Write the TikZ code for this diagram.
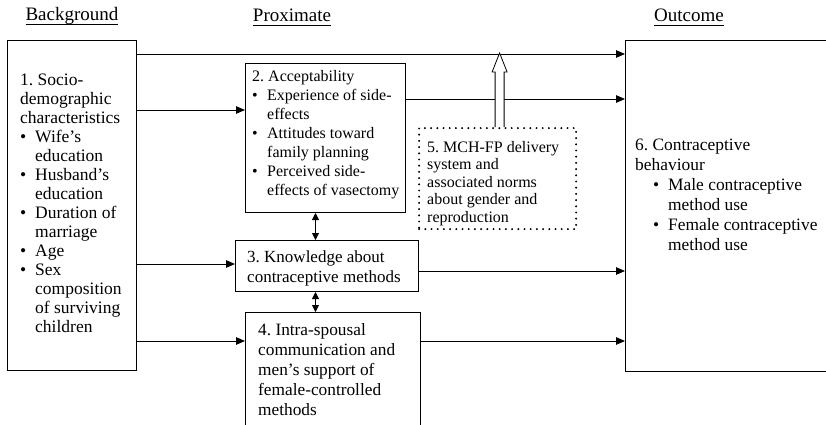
\documentclass[tikz,border=0pt]{standalone}
\usepackage{fontspec}
\setmainfont{Liberation Serif}
\usetikzlibrary{arrows.meta,positioning,calc}
\frenchspacing

\newcommand{\hdr}[1]{\sbox0{#1}\rlap{\rule[-4pt]{\wd0}{0.9pt}}\usebox0}
% body size with a matching strut, so tabular rows keep the leading
\newcommand{\setbody}[2]{\fontsize{#1}{#2}\selectfont
  \setbox\strutbox\hbox{\vrule height .7\baselineskip depth .3\baselineskip width 0pt}}
\newcommand{\bul}{\makebox[15pt][l]{\textbullet}}
\newcommand{\fullrow}[1]{\multicolumn{2}{@{}l@{}}{#1}}

\begin{document}
\begin{tikzpicture}[x=1pt,y=-1pt,
  box/.style={draw, line width=1pt, inner sep=0pt, anchor=north west},
  envbox/.style={draw, line width=2.2pt, line cap=round, dash pattern=on 0pt off 6.2pt, inner sep=0pt, anchor=north west},
  txt/.style={inner sep=0pt, anchor=north west},
  conn/.style={line width=0.9pt, -{Triangle[length=9pt,width=7.5pt]}},
  biconn/.style={line width=0.9pt, {Triangle[length=7pt,width=7pt]}-{Triangle[length=7pt,width=7pt]}},
  head/.style={inner sep=0pt, anchor=base, font=\fontsize{19}{22}\selectfont}]
  \useasboundingbox (0,0) rectangle (826,425);

  % column heads
  \node[head] (hbg) at (72,21) {\hdr{Background}};
  \node[head] (hpx) at (292,22) {\hdr{Proximate}};
  \node[head] (hout) at (689,22) {\hdr{Outcome}};

  % boxes
  \node[box, minimum width=129pt, minimum height=330pt] (soc) at (7,40) {};
  \node[box, minimum width=160pt, minimum height=149pt] (acc) at (245,63) {};
  \node[box, minimum width=183pt, minimum height=51pt] (know) at (235,240) {};
  \node[box, minimum width=175pt, minimum height=125pt] (comm) at (245,312) {};
  \node[envbox, minimum width=157pt, minimum height=101pt] (env) at (418,127) {};
  \node[box, minimum width=215pt, minimum height=331pt] (beh) at (625,40) {};

  % box texts
  \node[txt, font=\setbody{17.5}{19}] (soctxt) at ([shift={(13,31.7)}]soc.north west)
    {\begin{tabular}{@{}l@{}l@{}}
     \fullrow{1. Socio-}\\ \fullrow{demographic}\\ \fullrow{characteristics}\\
     \bul & Wife's\\ & education\\
     \bul & Husband's\\ & education\\
     \bul & Duration of\\ & marriage\\
     \bul & Age\\
     \bul & Sex\\ & composition\\ & of surviving\\ & children
     \end{tabular}};
  \node[txt, font=\setbody{16}{19}] (acctxt) at ([shift={(7,4.7)}]acc.north west)
    {\begin{tabular}{@{}l@{}l@{}}
     \fullrow{2. Acceptability}\\
     \bul & Experience of side-\\ & effects\\
     \bul & Attitudes toward\\ & family planning\\
     \bul & Perceived side-\\ & effects of vasectomy
     \end{tabular}};
  \node[txt, align=left, font=\fontsize{17}{20}\selectfont] (knowtxt) at ([shift={(12,11)}]know.north west)
    {3. Knowledge about\\ contraceptive methods};
  \node[txt, align=left, font=\fontsize{17.3}{20}\selectfont] (commtxt) at ([shift={(13,11)}]comm.north west)
    {4. Intra-spousal\\ communication and\\ men's support of\\ female-controlled\\ methods};
  \node[txt, align=left, font=\fontsize{16}{17.5}\selectfont] (envtxt) at ([shift={(9,14)}]env.north west)
    {5. MCH-FP delivery\\ system and\\ associated norms\\ about gender and\\ reproduction};
  \node[txt, font=\setbody{17.4}{20}] (behtxt) at ([shift={(10,96)}]beh.north west)
    {\begin{tabular}{@{\hspace{18pt}}l@{}l@{}}
     \fullrow{6. Contraceptive}\\ \fullrow{behaviour}\\
     \bul & Male contraceptive\\ & method use\\
     \bul & Female contraceptive\\ & method use
     \end{tabular}};

  % connectors
  \coordinate (top) at ([shift={(0,14)}]soc.north east);
  \draw[conn] (top) -- (top -| beh.west);
  \coordinate (s2) at ([shift={(0,47)}]acc.north west);
  \draw[conn] (s2 -| soc.east) -- (s2);
  \coordinate (a6) at ([shift={(0,36)}]acc.north east);
  \draw[conn] (a6) -- (a6 -| beh.west);
  \coordinate (s3) at ([shift={(0,24)}]know.north west);
  \draw[conn] (s3 -| soc.east) -- (s3);
  \coordinate (k6) at ([shift={(0,31)}]know.north east);
  \draw[conn] (k6) -- (k6 -| beh.west);
  \coordinate (s4) at ([shift={(0,29)}]comm.north west);
  \draw[conn] (s4 -| soc.east) -- (s4);
  \draw[conn] (s4 -| comm.east) -- (s4 -| beh.west);

  \coordinate (v1) at ([xshift=-10pt]acc.south);
  \draw[biconn] (v1) -- (v1 |- know.north);
  \coordinate (v2) at (v1 |- know.south);
  \draw[biconn] (v2) -- (v2 |- comm.north);

  % open arrow from the delivery system
  \filldraw[fill=white, line width=0.8pt] ([xshift=-2.5pt]env.north) -- ++(0,-55) -- ++(-3,0)
    -- ++(7.5,-19) -- ++(7.5,19) -- ++(-3,0) -- ++(0,55);
\end{tikzpicture}
\end{document}
